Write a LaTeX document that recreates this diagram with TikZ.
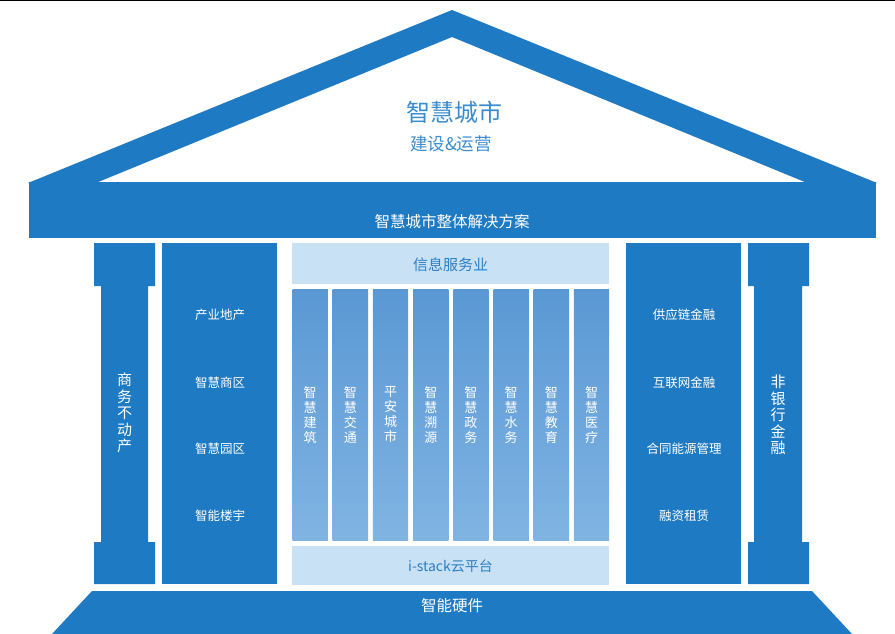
\documentclass[tikz,border=0pt]{standalone}
\usepackage{fontspec}
\setmainfont{Noto Sans CJK SC}
\definecolor{mainblue}{HTML}{1E7AC2}
\definecolor{lightbox}{HTML}{C8E1F4}
\definecolor{coltop}{HTML}{5A98D4}
\definecolor{colbot}{HTML}{80B4E3}
\definecolor{boxtext}{HTML}{2E7EC1}
\definecolor{rooftext}{HTML}{3A8CCF}
\tikzset{
  bluebox/.style={fill=mainblue, draw=none, inner sep=0pt, anchor=north west},
  lightpanel/.style={fill=lightbox, draw=none, inner sep=0pt, anchor=north west},
  wtext/.style={text=white, inner sep=0pt, font=\fontsize{12.5}{14}\selectfont},
  vtext/.style={text=white, inner sep=0pt, align=center, font=\fontsize{15}{16.5}\selectfont},
  ctext/.style={text=white, inner sep=0pt, align=center, font=\fontsize{13}{15}\selectfont},
  colbox/.style={draw=none, inner sep=0pt, anchor=north west, top color=coltop, bottom color=colbot,
     minimum width=35.3pt, minimum height=251pt}
}
\begin{document}
\begin{tikzpicture}[x=1pt,y=-1pt]
\useasboundingbox (0,0) rectangle (895,634);
\fill[white] (0,0) rectangle (895,634);
\draw[black, line width=1.3pt] (0,0.65) -- (895,0.65);
% roof
\fill[mainblue, even odd rule] (28,183) -- (452,10) -- (877,183) -- cycle
  (97,182.5) -- (452,37) -- (806,182.5) -- cycle;
\node[rooftext, font=\fontsize{24}{26}\selectfont, inner sep=0pt] (title) at (454,112) {智慧城市};
\node[rooftext, font=\fontsize{17.5}{19}\selectfont, inner sep=0pt] (subtitle) at (451,144) {建设\&运营};
% band
\node[bluebox, minimum width=847pt, minimum height=56pt] (band) at (29,182) {};
\node[text=white, inner sep=0pt, font=\fontsize{15.5}{17}\selectfont] (bandtext) at (452,222) {智慧城市整体解决方案};
% left pillar
\fill[mainblue] (94,243) -- (155,243) -- (155,286) -- (148,286) -- (148,542) -- (155,542) -- (155,584)
  -- (94,584) -- (94,542) -- (101,542) -- (101,286) -- (94,286) -- cycle;
\node[vtext] (lpillar) at (124.5,413) {商\\务\\不\\动\\产};
% right pillar
\fill[mainblue] (748,243) -- (809,243) -- (809,286) -- (802,286) -- (802,542) -- (809,542) -- (809,584)
  -- (748,584) -- (748,542) -- (754,542) -- (754,286) -- (748,286) -- cycle;
\node[vtext] (rpillar) at (778,415) {非\\银\\行\\金\\融};
% left box
\node[bluebox, minimum width=115pt, minimum height=341pt] (lbox) at (162,243) {};
\node[wtext] (l1) at (220,315) {产业地产};
\node[wtext] (l2) at (220,383) {智慧商区};
\node[wtext] (l3) at (220,449) {智慧园区};
\node[wtext] (l4) at (220,516) {智能楼宇};
% right box
\node[bluebox, minimum width=115pt, minimum height=341pt] (rbox) at (626,243) {};
\node[wtext] (r1) at (684,315) {供应链金融};
\node[wtext] (r2) at (684,383) {互联网金融};
\node[wtext] (r3) at (684,449) {合同能源管理};
\node[wtext] (r4) at (684,516) {融资租赁};
% middle top & bottom panels
\node[lightpanel, minimum width=317pt, minimum height=41pt] (info) at (292,243) {};
\node[text=boxtext, inner sep=0pt, font=\fontsize{15}{17}\selectfont] (infotext) at (450.5,264.5) {信息服务业};
\node[lightpanel, minimum width=317pt, minimum height=39pt] (cloud) at (292,546) {};
\node[text=boxtext, inner sep=0pt, font=\fontsize{14}{16}\selectfont] (cloudtext) at (450.5,566) {i-stack云平台};
% middle columns
\foreach \i/\t in {0/{智\\慧\\建\\筑},1/{智\\慧\\交\\通},2/{平\\安\\城\\市},3/{智\\慧\\溯\\源},
                   4/{智\\慧\\政\\务},5/{智\\慧\\水\\务},6/{智\\慧\\教\\育},7/{智\\慧\\医\\疗}}{
  \node[colbox] (col\i) at ({292.3+\i*40.2},289) {};
  \node[ctext] (coltext\i) at (col\i.center) {\t};
}
% base
\fill[mainblue] (92,591) -- (812,591) -- (852,634) -- (52,634) -- cycle;
\node[text=white, inner sep=0pt, font=\fontsize{15.5}{17}\selectfont] (basetext) at (452,606) {智能硬件};
\end{tikzpicture}
\end{document}
